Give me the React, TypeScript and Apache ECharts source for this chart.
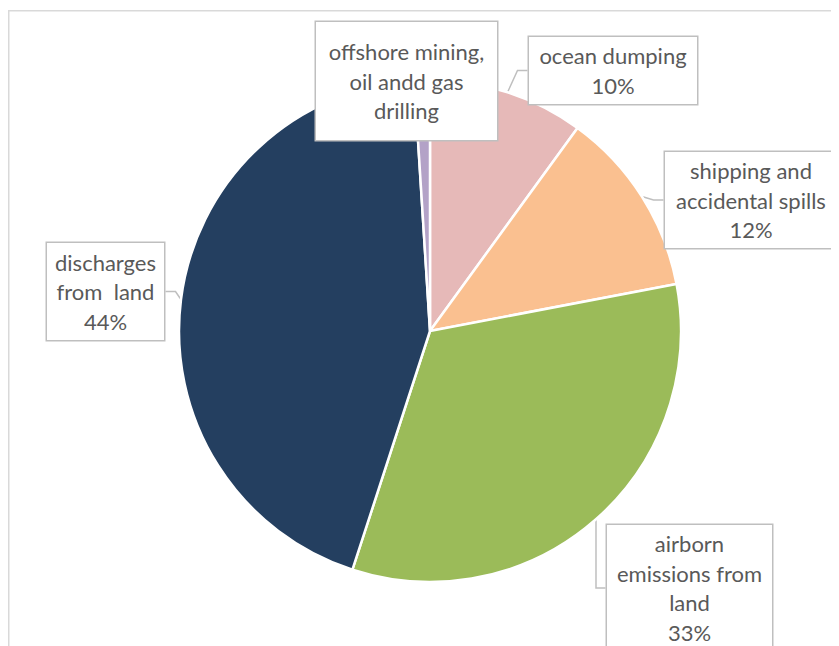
import React, { useEffect, useRef } from 'react';
import * as echarts from 'echarts';

const categories = [
  'ocean dumping',
  'shipping and accidental spills',
  'airborn emissions from land',
  'discharges from  land',
  'offshore mining, oil andd gas drilling',
];
const labelTexts = [
  'ocean dumping',
  'shipping and\naccidental spills',
  'airborn\nemissions from\nland',
  'discharges\nfrom  land',
  'offshore mining,\noil andd gas\ndrilling',
];
const values = [10, 12, 33, 44, 1];
const showPercent = [true, true, true, true, false];
const colors = ['#E6B9B8', '#FAC090', '#9BBB59', '#243F60', '#B3A2C7'];

// label box geometry, chart pixels (centre x, centre y, width, height)
const labelBoxes = [
  { cx: 605, cy: 62.5, w: 168, h: 67 },
  { cx: 743, cy: 192, w: 172, h: 96 },
  { cx: 681.5, cy: 580, w: 165, h: 126 },
  { cx: 97.5, cy: 283.5, w: 117, h: 97 },
  { cx: 398.5, cy: 73, w: 181, h: 118 },
];
const LINE_H = 29.5;
const FONT = 'Lato, "Open Sans", sans-serif';

function labelFor(i: number): string {
  return showPercent[i] ? `${labelTexts[i]}\n${values[i]}%` : labelTexts[i];
}

export default function App() {
  const ref = useRef<HTMLDivElement>(null);
  useEffect(() => {
    if (!ref.current) return;
    const chart = echarts.init(ref.current, undefined, { renderer: 'svg' });
    const data = categories.map((name, i) => {
      const b = labelBoxes[i];
      const n = labelFor(i).split('\n').length;
      const pv = Math.max(0, (b.h - n * LINE_H) / 2);
      return {
        name,
        value: values[i],
        itemStyle: { color: colors[i] },
        label: {
          width: b.w,
          padding: [pv, 0, pv, 0],
        },
        labelLine: { show: showPercent[i] },
      };
    });
    chart.setOption({
      animation: false,
      graphic: [
        {
          type: 'rect',
          silent: true,
          z: -10,
          shape: { x: 0.75, y: 2.75, width: 1200, height: 1200 },
          style: { fill: 'none', stroke: '#D9D9D9', lineWidth: 1.5 },
        },
      ],
      series: [
        {
          type: 'pie',
          center: [422, 323],
          radius: 251,
          startAngle: 90,
          clockwise: true,
          avoidLabelOverlap: false,
          itemStyle: { borderColor: '#ffffff', borderWidth: 2.5 },
          label: {
            show: true,
            position: 'outside',
            formatter: (p: any) => labelFor(p.dataIndex),
            fontFamily: FONT,
            fontSize: 22,
            lineHeight: LINE_H,
            color: '#595959',
            align: 'center',
            backgroundColor: '#ffffff',
            borderColor: '#BFBFBF',
            borderWidth: 1.5,
          },
          labelLine: {
            show: true,
            length: 12,
            length2: 10,
            smooth: false,
            lineStyle: { color: '#BFBFBF', width: 1.5 },
          },
          labelLayout: (params: any) => {
            const b = labelBoxes[params.dataIndex];
            return { x: b.cx, y: b.cy, align: 'center', verticalAlign: 'middle' };
          },
          emphasis: { disabled: true },
          data,
        },
      ],
    });
    return () => chart.dispose();
  }, []);
  return <div ref={ref} style={{ width: 831, height: 638 }} />;
}
